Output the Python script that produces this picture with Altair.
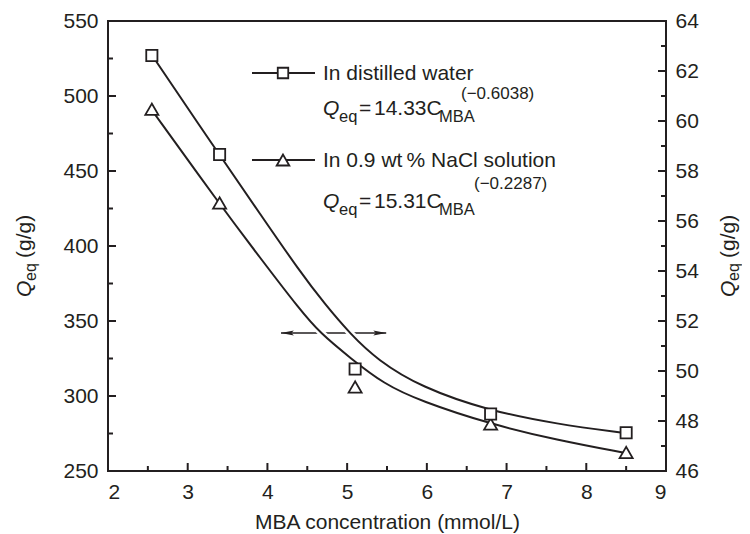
import altair as alt
import pandas as pd

FONT = "Liberation Sans"
INK = "#231f20"
W, H = 558, 450

# measured points
conc = [2.55, 3.4, 5.1, 6.8, 8.5]
q_water = [527, 461, 318, 288, 275.5]          # left axis (g/g)
q_nacl = [60.47, 56.72, 49.36, 47.88, 46.74]   # right axis (g/g)

# fitted curves
fit_water_x = [2.55, 3.39, 3.91, 4.41, 4.72, 5.04, 5.38, 5.92, 6.79, 7.63, 8.48]
fit_water_y = [527.3, 461.3, 421.3, 382.7, 361.3, 341.3, 324.0, 306.0, 290.0, 281.3, 275.3]
fit_nacl_x = [2.54, 3.39, 3.91, 4.41, 4.66, 5.04, 5.46, 5.92, 6.79, 7.63, 8.49]
fit_nacl_y = [60.48, 56.72, 54.52, 52.44, 51.52, 50.52, 49.48, 48.80, 47.88, 47.24, 46.72]

# tick values
x_major = [2, 3, 4, 5, 6, 7, 8, 9]
x_minor = [2.5, 3.5, 4.5, 5.5, 6.5, 7.5, 8.5]
yl_major = [250, 300, 350, 400, 450, 500, 550]
yl_minor = [275, 325, 375, 425, 475, 525]
yr_major = [46, 48, 50, 52, 54, 56, 58, 60, 62, 64]
yr_minor = [47, 49, 51, 53, 55, 57, 59, 61, 63]

# double arrow (data coords, left axis): shaft ends and arrow-head centres
arrow_x = [4.17, 5.49]
arrow_heads = [4.25, 5.41]
arrow_y = 342

xs = alt.Scale(domain=[2, 9], nice=False, zero=False)
yls = alt.Scale(domain=[250, 550], nice=False, zero=False)
yrs = alt.Scale(domain=[46, 64], nice=False, zero=False)

lab = dict(labelFont=FONT, labelFontSize=21, labelColor=INK, ticks=False,
           domain=False, grid=False)
x_axis = alt.Axis(values=x_major, format="d", title="MBA concentration (mmol/L)",
                  labelPadding=10, titleFont=FONT, titleFontSize=21,
                  titleFontWeight="normal", titleColor=INK, titlePadding=9, **lab)
yl_axis = alt.Axis(values=yl_major, title=None, orient="left", labelPadding=10, **lab)
yr_axis = alt.Axis(values=yr_major, title=None, orient="right", labelPadding=9, **lab)


def X(f):
    return alt.X(f"{f}:Q", scale=xs, axis=x_axis)


def YL(f):
    return alt.Y(f"{f}:Q", scale=yls, axis=yl_axis)


def YR(f):
    return alt.Y(f"{f}:Q", scale=yrs, axis=yr_axis)


one = pd.DataFrame({"k": [0]})


def txt(s, x, y, size=21, italic=False, angle=0):
    return alt.Chart(one).mark_text(
        text=s, font=FONT, fontSize=size, fontStyle="italic" if italic else "normal",
        color=INK, align="left", baseline="alphabetic", angle=angle
    ).encode(x=alt.value(x), y=alt.value(y))


water_pts = pd.DataFrame({"x": conc, "y": q_water})
nacl_pts = pd.DataFrame({"x": conc, "y": q_nacl})
water_fit = pd.DataFrame({"x": fit_water_x, "y": fit_water_y})
nacl_fit = pd.DataFrame({"x": fit_nacl_x, "y": fit_nacl_y})

# ---- group A: left scale ----
arrow_line = alt.Chart(pd.DataFrame({"x": [arrow_x[0]], "x2": [arrow_x[1]], "y": [arrow_y]})).mark_rule(
    color=INK, strokeWidth=1.5).encode(x=X("x"), x2="x2:Q", y=YL("y"))
head_l = alt.Chart(pd.DataFrame({"x": [arrow_heads[0]], "y": [arrow_y]})).mark_point(
    shape="M-1,0L1,-0.4L0.6,0L1,0.4Z", size=170, filled=True, color=INK, opacity=1
).encode(x=X("x"), y=YL("y"))
head_r = alt.Chart(pd.DataFrame({"x": [arrow_heads[1]], "y": [arrow_y]})).mark_point(
    shape="M1,0L-1,-0.4L-0.6,0L-1,0.4Z", size=170, filled=True, color=INK, opacity=1
).encode(x=X("x"), y=YL("y"))

w_halo = alt.Chart(water_fit).mark_line(color="white", strokeWidth=7, interpolate="basis").encode(
    x=X("x"), y=YL("y"))
w_line = alt.Chart(water_fit).mark_line(color=INK, strokeWidth=2, interpolate="basis").encode(
    x=X("x"), y=YL("y"))

xt_major = alt.Chart(pd.DataFrame({"v": x_major})).mark_rule(color=INK, strokeWidth=2).encode(
    x=X("v"), y=alt.value(H), y2=alt.value(H - 8))
xt_minor = alt.Chart(pd.DataFrame({"v": x_minor})).mark_rule(color=INK, strokeWidth=2).encode(
    x=X("v"), y=alt.value(H), y2=alt.value(H - 5))
yl_t_major = alt.Chart(pd.DataFrame({"v": yl_major})).mark_rule(color=INK, strokeWidth=2).encode(
    y=YL("v"), x=alt.value(0), x2=alt.value(8))
yl_t_minor = alt.Chart(pd.DataFrame({"v": yl_minor})).mark_rule(color=INK, strokeWidth=2).encode(
    y=YL("v"), x=alt.value(0), x2=alt.value(5))

# legend + equations
leg1_line = alt.Chart(one).mark_rule(color=INK, strokeWidth=2).encode(
    x=alt.value(144), x2=alt.value(207), y=alt.value(52))
leg1_sym = alt.Chart(one).mark_point(shape="square", size=110, filled=True, fill="white",
                                     stroke=INK, strokeWidth=1.8, opacity=1).encode(
    x=alt.value(175), y=alt.value(52))
leg2_line = alt.Chart(one).mark_rule(color=INK, strokeWidth=2).encode(
    x=alt.value(144), x2=alt.value(207), y=alt.value(139))
leg2_sym = alt.Chart(one).mark_point(shape="triangle-up", size=160, filled=True, fill="white",
                                     stroke=INK, strokeWidth=1.8, opacity=1).encode(
    x=alt.value(175), y=alt.value(139))

texts = [
    txt("In distilled water", 215, 59),
    txt("Q", 215, 94, italic=True), txt("eq", 231, 101, size=16.5), txt("=", 251, 94),
    txt("14.33C", 266, 94), txt("MBA", 331, 101, size=16.5), txt("(\u22120.6038)", 353, 78, size=17),
    txt("In 0.9 wt\u2009% NaCl solution", 215, 146),
    txt("Q", 215, 187, italic=True), txt("eq", 231, 194, size=16.5), txt("=", 251, 187),
    txt("15.31C", 266, 187), txt("MBA", 331, 194, size=16.5), txt("(\u22120.2287)", 366, 168, size=17),
    # left axis title (rotated)
    txt("Q", -77, 276, italic=True, angle=270), txt("eq", -72, 260, size=16, angle=270),
    txt("(g/g)", -77, 237, angle=270),
    # right axis title (rotated)
    txt("Q", 627, 276, italic=True, angle=270), txt("eq", 631, 260, size=16, angle=270),
    txt("(g/g)", 627, 237, angle=270),
]

group_a = alt.layer(arrow_line, head_l, head_r, w_halo, w_line, xt_major, xt_minor,
                    yl_t_major, yl_t_minor, leg1_line, leg1_sym, leg2_line, leg2_sym, *texts)

# ---- group B: right scale ----
n_halo = alt.Chart(nacl_fit).mark_line(color="white", strokeWidth=7, interpolate="basis").encode(
    x=X("x"), y=YR("y"))
n_line = alt.Chart(nacl_fit).mark_line(color=INK, strokeWidth=2, interpolate="basis").encode(
    x=X("x"), y=YR("y"))
n_pts = alt.Chart(nacl_pts).mark_point(shape="triangle-up", size=170, filled=True, fill="white",
                                       stroke=INK, strokeWidth=1.8, opacity=1).encode(
    x=X("x"), y=YR("y"))
yr_t_major = alt.Chart(pd.DataFrame({"v": yr_major})).mark_rule(color=INK, strokeWidth=2).encode(
    y=YR("v"), x=alt.value(W), x2=alt.value(W - 8))
yr_t_minor = alt.Chart(pd.DataFrame({"v": yr_minor})).mark_rule(color=INK, strokeWidth=2).encode(
    y=YR("v"), x=alt.value(W), x2=alt.value(W - 5))
group_b = alt.layer(n_halo, n_line, n_pts, yr_t_major, yr_t_minor)

# ---- group C: square markers on top (left scale, no axis) ----
group_c = alt.Chart(water_pts).mark_point(shape="square", size=125, filled=True, fill="white",
                                          stroke=INK, strokeWidth=1.8, opacity=1).encode(
    x=X("x"), y=alt.Y("y:Q", scale=yls, axis=None))

chart = alt.layer(group_a, group_b, group_c).resolve_scale(y="independent").properties(
    width=W, height=H,
    padding={"left": 100, "top": 13, "right": 76, "bottom": 62},
    autosize=alt.AutoSizeParams(type="none"),
    background="white",
).configure_view(stroke=INK, strokeWidth=2)

chart.save("out.html", embed_options={"renderer": "svg", "actions": False})
